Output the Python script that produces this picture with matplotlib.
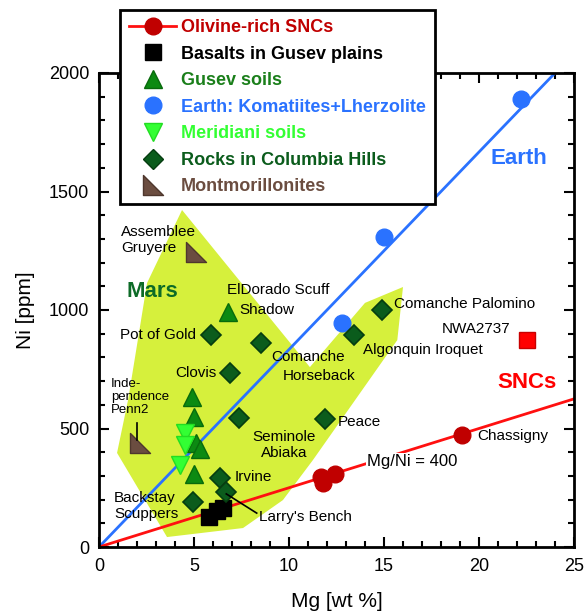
import matplotlib
matplotlib.use('Agg')
import matplotlib.pyplot as plt
from matplotlib.lines import Line2D
from matplotlib.path import Path
from matplotlib.patches import Polygon
from matplotlib.ticker import MultipleLocator
import numpy as np

plt.rcParams['font.family'] = ['Liberation Sans', 'DejaVu Sans']

# --- data ---
olivine_mg = [11.7, 12.4, 11.8, 19.1]
olivine_ni = [295, 310, 270, 472]

basalt_mg = [5.8, 6.2, 6.5]
basalt_ni = [125, 150, 165]

gusev_soil_mg = [6.8, 4.9, 5.0, 5.1, 5.3, 5.0]
gusev_soil_ni = [990, 635, 550, 440, 415, 310]

meridiani_mg = [4.55, 4.5, 4.25]
meridiani_ni = [481, 430, 346]

earth_mg = [12.8, 15.0, 22.2]
earth_ni = [945, 1310, 1890]

columbia_mg = [5.9, 8.5, 6.9, 7.35, 6.35, 6.7, 4.95, 11.9, 14.9, 13.4]
columbia_ni = [894, 861, 734, 545, 291, 232, 190, 540, 1000, 894]

montm_mg = [5.1, 2.15]
montm_ni = [1245, 439]

nwa_mg = [22.5]
nwa_ni = [875]

# Mars field outline
mars_mg = [4.37, 11.1, 14.0, 16.0, 15.7, 11.26, 9.68, 7.58, 3.58, 0.95, 1.53, 2.53]
mars_ni = [1422, 759, 1030, 1097, 873, 367, 198, 80, 42, 397, 620, 1114]

earth_ratio = 120    # Mg/Ni of the Earth trend
snc_ratio = 400      # Mg/Ni of the SNC trend
earth_line_mg = [0, 24]
snc_line_mg = [0, 25]

# colours
c_red_dark = '#c00000'
c_red = '#ff1010'
c_green = '#0c8a12'
c_light = '#33ff33'
c_blue = '#2a72ff'
c_dgreen = '#0b5c1c'
c_brown = '#6b4d40'
c_field = '#d6f03c'

corner = Path([(-1, 1), (-1, -1), (1, -1), (-1, 1)],
              [Path.MOVETO, Path.LINETO, Path.LINETO, Path.CLOSEPOLY])

fig = plt.figure(figsize=(5.85, 6.13), dpi=100)
ax = fig.add_axes([99/585, 1-547/613, 475/585, 474/613])

ax.add_patch(Polygon(np.column_stack([mars_mg, mars_ni]), closed=True,
                     facecolor=c_field, edgecolor='none', zorder=1))

ax.plot(earth_line_mg, [m*1e4/earth_ratio for m in earth_line_mg],
        color=c_blue, lw=2, zorder=2)
ax.plot(snc_line_mg, [m*1e4/snc_ratio for m in snc_line_mg],
        color=c_red, lw=2, zorder=2)

ms = 12
ax.plot(olivine_mg, olivine_ni, 'o', color=c_red_dark, ms=ms, mec=c_red_dark, zorder=5)
ax.plot(basalt_mg, basalt_ni, 's', color='black', ms=ms, zorder=5)
ax.plot(gusev_soil_mg, gusev_soil_ni, '^', color=c_green, ms=13, mec='#086a0c', zorder=5)
ax.plot(earth_mg, earth_ni, 'o', color=c_blue, ms=ms, mec=c_blue, zorder=5)
ax.plot(meridiani_mg, meridiani_ni, 'v', color=c_light, ms=13, mec='#22dd22', zorder=6)
ax.plot(columbia_mg, columbia_ni, 'D', color=c_dgreen, ms=10, mec='#063d10', mew=1.2, zorder=5)
ax.plot(montm_mg, montm_ni, marker=corner, ls='none', color=c_brown, ms=14, mec='#4e372d', zorder=5)
ax.plot(nwa_mg, nwa_ni, 's', color='#ff0000', ms=11, mec='#c80000', zorder=5)

# point labels
lab = dict(fontsize=11, color='black', zorder=7)
ax.text(1.16, 1295, 'Assemblee\nGruyere', ha='left', va='center', linespacing=1.2, **lab)
ax.text(6.74, 1084, 'ElDorado Scuff', ha='left', va='center', **lab)
ax.text(7.37, 1000, 'Shadow', ha='left', va='center', **lab)
ax.text(5.1, 894, 'Pot of Gold', ha='right', va='center', **lab)
ax.text(6.2, 734, 'Clovis', ha='right', va='center', **lab)
ax.text(9.05, 802, 'Comanche', ha='left', va='center', **lab)
ax.text(9.68, 722, 'Horseback', ha='left', va='center', **lab)
ax.text(15.5, 1025, 'Comanche Palomino', ha='left', va='center', **lab)
ax.text(18.05, 920, 'NWA2737', ha='left', va='center', **lab)
ax.text(13.9, 831, 'Algonquin Iroquet', ha='left', va='center', **lab)
ax.text(12.55, 527, 'Peace', ha='left', va='center', **lab)
ax.text(19.9, 468, 'Chassigny', ha='left', va='center', **lab)
ax.text(14.1, 362, 'Mg/Ni = 400', ha='left', va='center', fontsize=12, zorder=7,
        bbox=dict(facecolor='white', edgecolor='none', pad=0.5))
ax.text(9.75, 430, 'Seminole\nAbiaka', ha='center', va='center', linespacing=1.2, **lab)
ax.text(7.15, 295, 'Irvine', ha='left', va='center', **lab)
ax.text(8.42, 127, "Larry's Bench", ha='left', va='center', **lab)
ax.plot([6.7, 8.3], [224, 143], color='black', lw=1.2, zorder=6)
ax.text(0.8, 173, 'Backstay\nScuppers', ha='left', va='center', linespacing=1.2, **lab)
ax.text(0.63, 633, 'Inde-\npendence\nPenn2', ha='left', va='center', fontsize=9.5,
        linespacing=1.15, zorder=7)
ax.plot([2.0, 2.0], [523, 450], color='black', lw=1.2, zorder=6)

ax.text(2.8, 1076, 'Mars', ha='center', va='center', fontsize=16, fontweight='bold',
        color='#0d6b27', zorder=7)
ax.text(22.1, 1641, 'Earth', ha='center', va='center', fontsize=16, fontweight='bold',
        color=c_blue, zorder=7)
ax.text(22.5, 696, 'SNCs', ha='center', va='center', fontsize=16, fontweight='bold',
        color='#ff0000', zorder=7)

# axes
ax.set_xlim(0, 25)
ax.set_ylim(0, 2000)
ax.xaxis.set_major_locator(MultipleLocator(5))
ax.xaxis.set_minor_locator(MultipleLocator(1))
ax.yaxis.set_major_locator(MultipleLocator(500))
ax.yaxis.set_minor_locator(MultipleLocator(100))
ax.tick_params(which='both', direction='in', top=True, right=True, width=1.5)
ax.tick_params(which='major', length=7, labelsize=13)
ax.tick_params(which='minor', length=4)
ax.tick_params(axis='x', pad=8)
ax.tick_params(axis='y', pad=7)
for s in ax.spines.values():
    s.set_linewidth(2)
ax.set_xlabel('Mg [wt %]', fontsize=15, labelpad=12)
ax.set_ylabel('Ni [ppm]', fontsize=15, labelpad=10)

# legend
handles = [
    Line2D([], [], color=c_red, lw=2, marker='o', ms=ms, mfc=c_red_dark, mec=c_red_dark),
    Line2D([], [], ls='none', marker='s', ms=ms, color='black'),
    Line2D([], [], ls='none', marker='^', ms=13, color=c_green, mec='#086a0c'),
    Line2D([], [], ls='none', marker='o', ms=ms, color=c_blue),
    Line2D([], [], ls='none', marker='v', ms=13, color=c_light, mec='#22dd22'),
    Line2D([], [], ls='none', marker='D', ms=10, color=c_dgreen, mec='#063d10'),
    Line2D([], [], ls='none', marker=corner, ms=14, color=c_brown, mec='#4e372d'),
]
labels = ['Olivine-rich SNCs', 'Basalts in Gusev plains', 'Gusev soils',
          'Earth: Komatiites+Lherzolite', 'Meridiani soils',
          'Rocks in Columbia Hills', 'Montmorillonites']
label_colors = [c_red_dark, 'black', '#1a7f1a', c_blue, c_light, c_dgreen, c_brown]

leg = fig.legend(handles, labels, loc='upper left',
                 bbox_to_anchor=(120/585, 1-10/613), bbox_transform=fig.transFigure,
                 borderaxespad=0, fancybox=False, framealpha=1, edgecolor='black',
                 prop={'weight': 'bold', 'size': 13}, handlelength=2.6,
                 handletextpad=0.28, labelspacing=0.53, borderpad=0.5)
leg.get_frame().set_linewidth(2)
leg.set_zorder(10)
for t, c in zip(leg.get_texts(), label_colors):
    t.set_color(c)

fig.savefig('out.png', dpi=100)
